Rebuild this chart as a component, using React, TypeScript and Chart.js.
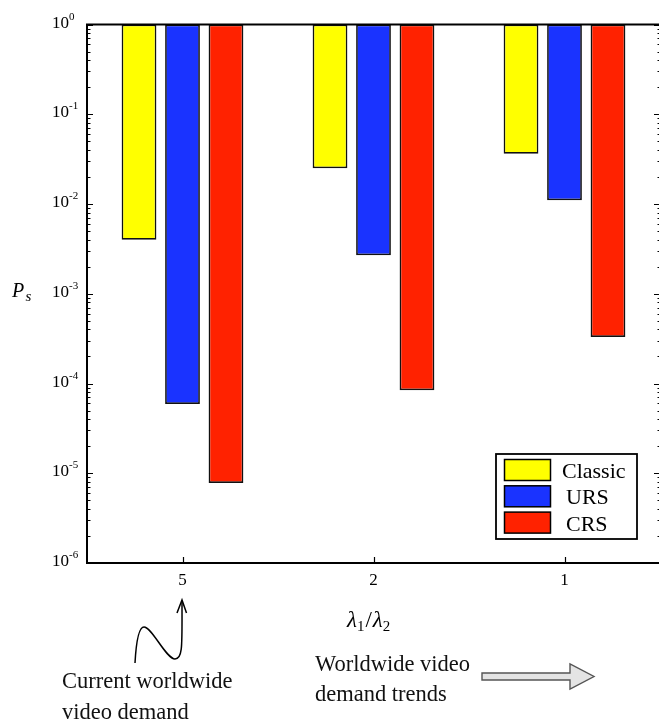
import { useEffect, useRef } from "react";
import { Chart, registerables } from "chart.js";

Chart.register(...registerables);

const categories = ["5", "2", "1"];
const seriesNames = ["Classic", "URS", "CRS"];
const classicValues = [0.004, 0.0251, 0.0364];
const ursValues = [5.9e-5, 0.00269, 0.011];
const crsValues = [7.8e-6, 8.4e-5, 3.3e-4];
const seriesColors = ["#ffff00", "#1a33ff", "#ff2200"];
const yTickExponents = [0, -1, -2, -3, -4, -5, -6];
const yMin = 1e-6;
const yMax = 1;

const SERIF = '"Liberation Serif", "Times New Roman", serif';

const axesPlugin = {
  id: "customAxes",
  afterDraw(chart: any) {
    const ctx: CanvasRenderingContext2D = chart.ctx;
    const { left, right, top, bottom } = chart.chartArea;
    const x = chart.scales.x;
    const y = chart.scales.y;
    ctx.save();
    ctx.strokeStyle = "#000";
    ctx.fillStyle = "#000";

    // axes lines
    ctx.lineWidth = 2;
    ctx.beginPath();
    ctx.moveTo(left, top);
    ctx.lineTo(right, top);
    ctx.moveTo(left, top - 1);
    ctx.lineTo(left, bottom + 1);
    ctx.moveTo(left - 1, bottom);
    ctx.lineTo(right, bottom);
    ctx.stroke();

    // y ticks
    ctx.lineWidth = 1;
    ctx.beginPath();
    for (const e of yTickExponents) {
      const py = Math.round(y.getPixelForValue(Math.pow(10, e))) + 0.5;
      ctx.moveTo(left, py);
      ctx.lineTo(left + 6, py);
      ctx.moveTo(right, py);
      ctx.lineTo(right - 6, py);
      if (e > -6) {
        for (let m = 2; m <= 9; m++) {
          const my = Math.round(y.getPixelForValue(m * Math.pow(10, e - 1))) + 0.5;
          ctx.moveTo(left, my);
          ctx.lineTo(left + 3.5, my);
          ctx.moveTo(right, my);
          ctx.lineTo(right - 2.5, my);
        }
      }
    }
    ctx.stroke();

    // y tick labels
    ctx.textAlign = "left";
    ctx.textBaseline = "alphabetic";
    for (const e of yTickExponents) {
      const py = y.getPixelForValue(Math.pow(10, e));
      ctx.font = `17px ${SERIF}`;
      ctx.fillText("10", 52, py + 3);
      ctx.font = `11px ${SERIF}`;
      ctx.fillText(String(e), 69, py - 5);
    }

    // x ticks + labels
    ctx.lineWidth = 1.2;
    ctx.beginPath();
    categories.forEach((c, i) => {
      const px = Math.round(x.getPixelForValue(i)) + 0.5;
      ctx.moveTo(px, bottom);
      ctx.lineTo(px, bottom - 6);
    });
    ctx.stroke();
    ctx.textAlign = "center";
    ctx.font = `17px ${SERIF}`;
    categories.forEach((c, i) => {
      ctx.fillText(c, x.getPixelForValue(i), 585);
    });

    // y axis title P_s
    ctx.textAlign = "left";
    ctx.font = `italic 20px ${SERIF}`;
    ctx.fillText("P", 12, 297);
    ctx.font = `italic 15px ${SERIF}`;
    ctx.fillText("s", 25.5, 301);

    // x axis title λ1/λ2
    const lamFont = `italic 23px ${SERIF}`;
    const subFont = `15px ${SERIF}`;
    let cx = 347;
    ctx.font = lamFont;
    ctx.fillText("λ", cx, 627);
    cx += ctx.measureText("λ").width;
    ctx.font = subFont;
    ctx.fillText("1", cx, 631);
    cx += ctx.measureText("1").width + 1;
    ctx.font = `23px ${SERIF}`;
    ctx.fillText("/", cx, 627);
    cx += ctx.measureText("/").width + 1;
    ctx.font = lamFont;
    ctx.fillText("λ", cx, 627);
    cx += ctx.measureText("λ").width;
    ctx.font = subFont;
    ctx.fillText("2", cx, 631);

    // legend
    const lx = 496, ly = 454, lw = 141, lh = 85;
    ctx.fillStyle = "#fff";
    ctx.fillRect(lx, ly, lw, lh);
    ctx.lineWidth = 1.8;
    ctx.strokeStyle = "#000";
    ctx.strokeRect(lx, ly, lw, lh);
    const textX = [562, 566, 566];
    seriesNames.forEach((name, i) => {
      const sy = 459.5 + i * 26.3;
      ctx.fillStyle = seriesColors[i];
      ctx.fillRect(504.5, sy, 46, 21);
      ctx.lineWidth = 1.5;
      ctx.strokeRect(504.5, sy, 46, 21);
      ctx.fillStyle = "#000";
      ctx.font = `22px ${SERIF}`;
      ctx.textAlign = "left";
      ctx.fillText(name, textX[i], sy + 18.5);
    });

    // annotations
    ctx.fillStyle = "#111";
    ctx.font = `22.5px ${SERIF}`;
    ctx.fillText("Current worldwide", 62, 688);
    ctx.fillText("video demand", 62, 719);
    ctx.fillText("Worldwide video", 315, 671);
    ctx.fillText("demand trends", 315, 701);

    // wavy arrow
    ctx.strokeStyle = "#000";
    ctx.lineWidth = 1.5;
    ctx.beginPath();
    ctx.moveTo(135, 663);
    ctx.bezierCurveTo(136, 645, 138, 627, 144, 627);
    ctx.bezierCurveTo(152, 627, 166, 659, 175, 659);
    ctx.bezierCurveTo(183, 659, 182, 645, 182, 601);
    ctx.stroke();
    ctx.beginPath();
    ctx.moveTo(177, 613);
    ctx.lineTo(182, 600);
    ctx.lineTo(186.5, 613);
    ctx.stroke();

    // block arrow
    ctx.beginPath();
    ctx.moveTo(482, 673);
    ctx.lineTo(570, 673);
    ctx.lineTo(570, 664);
    ctx.lineTo(594, 676.5);
    ctx.lineTo(570, 689);
    ctx.lineTo(570, 680);
    ctx.lineTo(482, 680);
    ctx.closePath();
    ctx.fillStyle = "#e4e4e4";
    ctx.fill();
    ctx.strokeStyle = "#555";
    ctx.lineWidth = 1.4;
    ctx.stroke();

    ctx.restore();
  },
};

export default function App() {
  const canvasRef = useRef<HTMLCanvasElement | null>(null);

  useEffect(() => {
    const canvas = canvasRef.current;
    if (!canvas) return;
    const seriesValues = [classicValues, ursValues, crsValues];
    const chart = new Chart(canvas, {
      type: "bar",
      data: {
        labels: categories,
        datasets: seriesNames.map((name, i) => ({
          label: name,
          data: seriesValues[i].map((v) => [v, yMax] as [number, number]),
          backgroundColor: seriesColors[i],
          borderColor: "#111",
          borderWidth: 1.7,
          borderSkipped: false,
          categoryPercentage: 0.683,
          barPercentage: 0.8,
        })),
      },
      options: {
        responsive: false,
        maintainAspectRatio: false,
        devicePixelRatio: 1,
        animation: false,
        layout: { padding: { left: 87, top: 24.5, right: 2, bottom: 161 } },
        plugins: {
          legend: { display: false },
          tooltip: { enabled: false },
        },
        scales: {
          x: { type: "category", display: false, offset: true },
          y: { type: "logarithmic", display: false, min: yMin, max: yMax },
        },
      },
      plugins: [axesPlugin],
    });
    return () => chart.destroy();
  }, []);

  return (
    <div
      style={{
        position: "fixed",
        left: 0,
        top: 0,
        width: 659,
        height: 724,
        overflow: "hidden",
        background: "#fff",
      }}
    >
      <canvas ref={canvasRef} width={662} height={724} style={{ display: "block", width: 662, height: 724 }} />
    </div>
  );
}
